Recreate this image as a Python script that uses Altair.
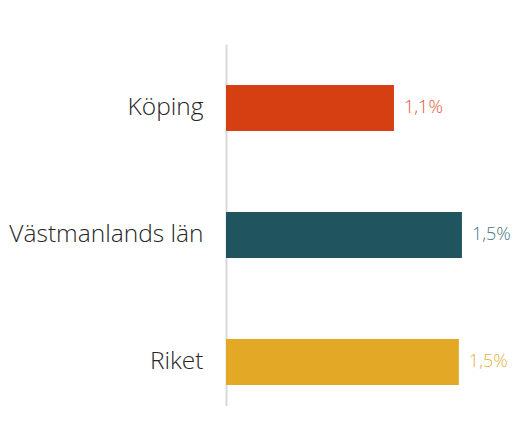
import altair as alt
import pandas as pd

categories = ["Köping", "Västmanlands län", "Riket"]
values = [1.10, 1.545, 1.525]
labels = ["1,1%", "1,5%", "1,5%"]
bar_colors = ["#D63F11", "#20555F", "#E2A826"]
label_colors = ["#E2582D", "#44767D", "#E8B13C"]

df = pd.DataFrame({
    "cat": categories,
    "value": values,
    "label": labels,
    "bar_color": bar_colors,
    "label_color": label_colors,
})

FONT = "Open Sans"

y_enc = alt.Y(
    "cat:N",
    sort=categories,
    title=None,
    scale=alt.Scale(paddingInner=0.6378, paddingOuter=0.2441, align=0.661),
    axis=alt.Axis(
        ticks=False,
        domainColor="#D9D9D9",
        domainWidth=2,
        labelFontSize=24.5,
        labelFont=FONT,
        labelFontWeight=300,
        labelColor="#262626",
        labelPadding=23,
        labelLimit=400,
    ),
)
x_enc = alt.X(
    "value:Q",
    title=None,
    scale=alt.Scale(domain=[0, 1.886], nice=False, zero=True),
    axis=None,
)

bars = alt.Chart(df).mark_bar().encode(
    x=x_enc,
    y=y_enc,
    color=alt.Color("bar_color:N", scale=None, legend=None),
)

texts = alt.Chart(df).mark_text(
    align="left", baseline="middle", dx=10, fontSize=18, font=FONT, fontWeight=300
).encode(
    x=x_enc,
    y=alt.Y("cat:N", sort=categories),
    text="label:N",
    color=alt.Color("label_color:N", scale=None, legend=None),
)

chart = alt.layer(bars, texts).properties(
    width=288,
    height=362,
    autosize=alt.AutoSizeParams(type="none"),
    padding={"left": 218, "top": 36, "right": 0, "bottom": 0},
    background="white",
).configure_view(stroke=None)

chart.save("out.html", embed_options={"renderer": "svg", "actions": False})
